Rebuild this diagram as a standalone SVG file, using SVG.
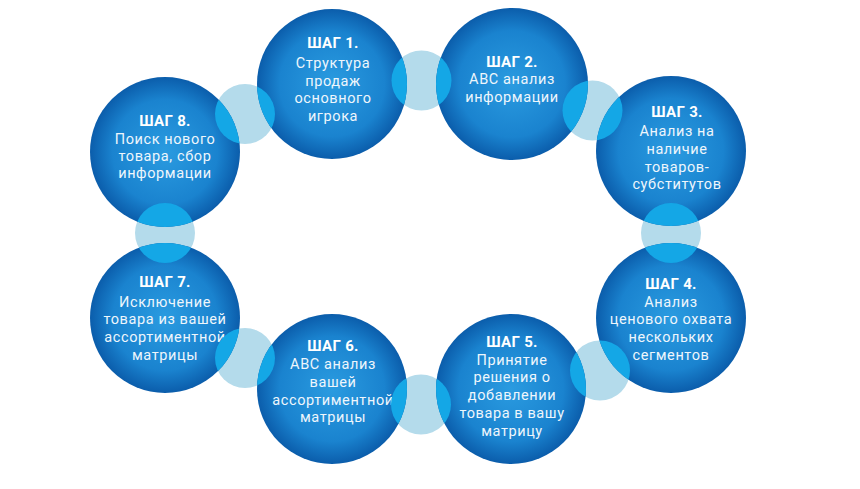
<svg xmlns="http://www.w3.org/2000/svg" width="860" height="489" viewBox="0 0 860 489">
<style>
.title{font-family:Roboto,"Liberation Sans",sans-serif;font-weight:bold;font-size:15px;letter-spacing:0.3px;fill:#fff;text-anchor:middle}
.body{font-family:Roboto,"Liberation Sans",sans-serif;font-size:14.5px;letter-spacing:0.6px;fill:#eef6fc;text-anchor:middle}
.pale{fill:#b4dbeb}
.cyan{fill:#14a7e6}
.big{fill:url(#g)}
</style>
<defs>
<radialGradient id="g" cx="0.5" cy="0.5" r="0.5">
<stop offset="0" stop-color="#2a9be0"/>
<stop offset="0.7" stop-color="#1a83cf"/>
<stop offset="1" stop-color="#0b5dab"/>
</radialGradient>
<clipPath id="bigs">
<circle cx="332" cy="84" r="75"/>
<circle cx="512" cy="84" r="76"/>
<circle cx="671" cy="151" r="75"/>
<circle cx="671" cy="318" r="75"/>
<circle cx="511" cy="389" r="75"/>
<circle cx="332" cy="389" r="75"/>
<circle cx="165" cy="318" r="75"/>
<circle cx="165" cy="152" r="75"/>
</clipPath>
</defs>
<rect width="860" height="489" fill="#fff"/>
<g id="connectors">
<circle class="pale" cx="245" cy="114" r="30"/>
<circle class="pale" cx="421.5" cy="80.5" r="30"/>
<circle class="pale" cx="592.5" cy="110.5" r="30"/>
<circle class="pale" cx="671" cy="233" r="30"/>
<circle class="pale" cx="600" cy="370.5" r="30"/>
<circle class="pale" cx="421" cy="404.5" r="30"/>
<circle class="pale" cx="245" cy="358" r="30"/>
<circle class="pale" cx="165" cy="233" r="30"/>
</g>
<g id="step1"><circle class="big" cx="332" cy="84" r="75"/>
<text class="title" x="333" y="48">ШАГ 1.</text>
<text class="body" x="333" y="68">Структура</text>
<text class="body" x="333" y="86">продаж</text>
<text class="body" x="333" y="103">основного</text>
<text class="body" x="333" y="121">игрока</text></g>
<g id="step2"><circle class="big" cx="512" cy="84" r="76"/>
<text class="title" x="512" y="67">ШАГ 2.</text>
<text class="body" x="512" y="84">АВС анализ</text>
<text class="body" x="512" y="102">информации</text></g>
<g id="step3"><circle class="big" cx="671" cy="151" r="75"/>
<text class="title" x="677" y="117">ШАГ 3.</text>
<text class="body" x="677" y="136">Анализ на</text>
<text class="body" x="677" y="154">наличие</text>
<text class="body" x="677" y="172">товаров-</text>
<text class="body" x="677" y="189">субститутов</text></g>
<g id="step4"><circle class="big" cx="671" cy="318" r="75"/>
<text class="title" x="671" y="289">ШАГ 4.</text>
<text class="body" x="671" y="307">Анализ</text>
<text class="body" x="671" y="324">ценового охвата</text>
<text class="body" x="671" y="342">нескольких</text>
<text class="body" x="671" y="360">сегментов</text></g>
<g id="step5"><circle class="big" cx="511" cy="389" r="75"/>
<text class="title" x="512" y="347">ШАГ 5.</text>
<text class="body" x="512" y="365">Принятие</text>
<text class="body" x="512" y="382">решения о</text>
<text class="body" x="512" y="400">добавлении</text>
<text class="body" x="512" y="418">товара в вашу</text>
<text class="body" x="512" y="436">матрицу</text></g>
<g id="step6"><circle class="big" cx="332" cy="389" r="75"/>
<text class="title" x="333" y="351">ШАГ 6.</text>
<text class="body" x="333" y="369">АВС анализ</text>
<text class="body" x="333" y="387">вашей</text>
<text class="body" x="333" y="405">ассортиментной</text>
<text class="body" x="333" y="422">матрицы</text></g>
<g id="step7"><circle class="big" cx="165" cy="318" r="75"/>
<text class="title" x="165" y="287">ШАГ 7.</text>
<text class="body" x="165" y="307">Исключение</text>
<text class="body" x="165" y="324">товара из вашей</text>
<text class="body" x="165" y="342">ассортиментной</text>
<text class="body" x="165" y="360">матрицы</text></g>
<g id="step8"><circle class="big" cx="165" cy="152" r="75"/>
<text class="title" x="165" y="126">ШАГ 8.</text>
<text class="body" x="165" y="144">Поиск нового</text>
<text class="body" x="165" y="161">товара, сбор</text>
<text class="body" x="165" y="178">информации</text></g>
<g id="overlaps" clip-path="url(#bigs)">
<circle class="cyan" cx="245" cy="114" r="30"/>
<circle class="cyan" cx="421.5" cy="80.5" r="30"/>
<circle class="cyan" cx="592.5" cy="110.5" r="30"/>
<circle class="cyan" cx="671" cy="233" r="30"/>
<circle class="cyan" cx="600" cy="370.5" r="30"/>
<circle class="cyan" cx="421" cy="404.5" r="30"/>
<circle class="cyan" cx="245" cy="358" r="30"/>
<circle class="cyan" cx="165" cy="233" r="30"/>
</g>
</svg>
